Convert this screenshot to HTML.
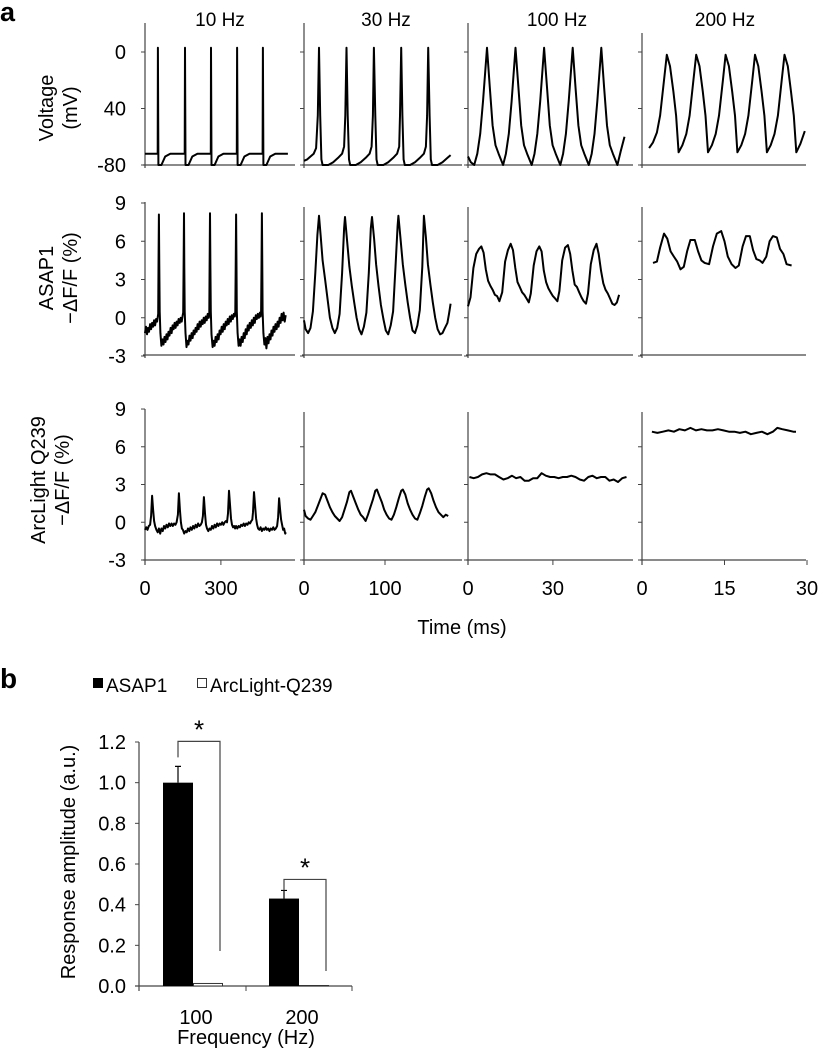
<!DOCTYPE html>
<html><head><meta charset="utf-8"><style>
html,body{margin:0;padding:0;background:#fff;}
svg{display:block;font-family:"Liberation Sans",sans-serif;}
</style></head><body>
<svg id="fig" width="823" height="1050" viewBox="0 0 823 1050">
<text x="0" y="21" font-size="27" font-weight="bold">a</text>
<text x="0" y="688" font-size="28" font-weight="bold">b</text>
<g font-size="19" text-anchor="middle">
<text x="220" y="26">10 Hz</text>
<text x="386" y="26">30 Hz</text>
<text x="557" y="26">100 Hz</text>
<text x="725" y="26">200 Hz</text>
</g>
<g font-size="20" text-anchor="middle">
<text transform="translate(53,108) rotate(-90)">Voltage</text>
<text transform="translate(77,108) rotate(-90)">(mV)</text>
<text transform="translate(53,278) rotate(-90)">ASAP1</text>
<text transform="translate(77,278) rotate(-90)">−ΔF/F (%)</text>
<text transform="translate(45,480) rotate(-90)">ArcLight Q239</text>
<text transform="translate(69,480) rotate(-90)">−ΔF/F (%)</text>
<text x="462" y="634">Time (ms)</text>
</g>
<g id="panelA"></g>
<g id="panelB"></g>
</svg>
<script>
// ---------- Panel a data ----------
const colTitles = ["10 Hz","30 Hz","100 Hz","200 Hz"];
const voltTicks = [0,-40,-80];
const voltTickLabels = ["0","40","-80"];
const dffTicks = [9,6,3,0,-3];
const dffTickLabels = ["9","6","3","0","-3"];
const timeTicks = [[0,300],[0,100],[0,30],[0,15,30]];
const timeTickLabels = [["0","300"],["0","100"],["0","30"],["0","15","30"]];

const volt10 = [[0,-72],[50,-72],[51,3],[53,-80],[65,-80],[80,-74],[100,-72],[157,-72],[158,3],[160,-80],[172,-80],[187,-74],[207,-72],[260,-72],[261,3],[263,-80],[275,-80],[290,-74],[310,-72],[363,-72],[364,3],[366,-80],[378,-80],[393,-74],[413,-72],[465,-72],[466,3],[468,-80],[480,-80],[495,-74],[515,-72],[565,-72]];
const volt30 = [[0,-77],[4,-76],[8,-74],[12,-72],[15,-68],[17,-45],[18.5,3],[20,-45],[21.5,-76],[23,-80],[30,-80],[36,-78],[42,-75],[47,-72],[49.5,-67],[51,-45],[52.5,3],[54,-45],[55.5,-76],[57,-80],[64,-80],[70,-78],[76,-75],[81,-72],[83.5,-67],[85,-45],[86.3,3],[88,-45],[89.5,-76],[91,-80],[98,-80],[104,-78],[110,-75],[115,-72],[117.5,-67],[118.5,-45],[120,3],[121.5,-45],[123,-76],[124.5,-80],[131,-80],[137,-78],[143,-75],[148,-72],[150.5,-67],[152,-45],[153.3,3],[155,-45],[156.5,-76],[158,-80],[165,-80],[171,-78],[177,-75],[181,-73]];
const volt100 = [[0,-74],[1,-78],[2.2,-80],[3.3,-72],[4.3,-58],[5.3,-35],[6.7,3],[7.7,-25],[8.7,-52],[9.7,-66],[10.8,-72],[12.4,-80],[13.4,-72],[14.4,-58],[15.4,-35],[16.8,3],[17.8,-25],[18.8,-52],[19.8,-66],[20.9,-72],[22.5,-80],[23.5,-72],[24.5,-58],[25.5,-35],[26.9,3],[27.9,-25],[28.9,-52],[29.9,-66],[31,-72],[32.6,-80],[33.6,-72],[34.6,-58],[35.6,-35],[37,3],[38,-25],[39,-52],[40,-66],[41.1,-72],[42.7,-80],[43.7,-72],[44.7,-58],[45.7,-35],[47.1,3],[48.1,-25],[49.1,-52],[50.1,-66],[51.2,-72],[52.8,-80],[54,-70],[55.3,-60]];
const volt200 = [[1.3,-68],[2,-64],[2.7,-57],[3.3,-45],[4,-20],[4.5,-2],[5.1,-10],[5.7,-28],[6.2,-45],[6.65,-71],[7.35,-66],[8.05,-58],[8.65,-45],[9.35,-20],[9.85,-2],[10.45,-10],[11.05,-28],[11.55,-45],[12,-71],[12.7,-66],[13.4,-58],[14,-45],[14.7,-20],[15.2,-2],[15.8,-10],[16.4,-28],[16.9,-45],[17.35,-71],[18.05,-66],[18.75,-58],[19.35,-45],[20.05,-20],[20.55,-2],[21.15,-10],[21.75,-28],[22.25,-45],[22.7,-71],[23.4,-66],[24.1,-58],[24.7,-45],[25.4,-20],[25.9,-2],[26.5,-10],[27.1,-28],[27.6,-45],[28.05,-71],[28.8,-65],[29.6,-56]];

const asap10 = [[0,-1.2],[4,-0.7],[8,-1.3],[12,-0.8],[16,-1.1],[20,-0.5],[24,-0.9],[28,-0.4],[32,-0.7],[36,-0.2],[40,-0.6],[44,-0.1],[48,-0.3],[52,0.3],[53.5,4],[55,8.1],[56.5,4],[58,0.5],[61,-1.2],[65,-2.2],[69,-1.7],[73,-2.1],[77,-1.5],[81,-1.9],[85,-1.3],[89,-1.7],[93,-1.1],[97,-1.4],[101,-0.8],[105,-1.2],[109,-0.6],[113,-0.9],[117,-0.4],[121,-0.8],[125,-0.3],[129,-0.6],[133,-0.1],[137,-0.4],[141,0],[145,-0.3],[149,0.2],[151,0.4],[152.5,4],[154,8.2],[155.5,4],[157,0.5],[160,-1.2],[164,-2.3],[168,-1.8],[172,-2.1],[176,-1.4],[180,-1.8],[184,-1.2],[188,-1.6],[192,-1],[196,-1.3],[200,-0.8],[204,-1.1],[208,-0.5],[212,-0.9],[216,-0.3],[220,-0.7],[224,-0.2],[228,-0.5],[232,0],[236,-0.4],[240,0.1],[244,-0.2],[248,0.3],[252,0],[254,0.4],[255.5,4],[257,8.2],[258.5,4],[260,0.5],[263,-1.3],[267,-2.3],[271,-1.8],[275,-2.2],[279,-1.5],[283,-1.9],[287,-1.3],[291,-1.7],[295,-1],[299,-1.3],[303,-0.7],[307,-1.1],[311,-0.5],[315,-0.9],[319,-0.3],[323,-0.6],[327,-0.1],[331,-0.5],[335,0.1],[339,-0.3],[343,0.2],[347,-0.1],[351,0.3],[355,0.1],[357,0.5],[358.5,4],[360,8.1],[361.5,4],[363,0.5],[366,-1.2],[370,-2.2],[374,-1.7],[378,-2.2],[382,-1.5],[386,-1.9],[390,-1.2],[394,-1.6],[398,-0.9],[402,-1.3],[406,-0.6],[410,-1],[414,-0.4],[418,-0.8],[422,-0.2],[426,-0.6],[430,0],[434,-0.4],[438,0.2],[442,-0.1],[446,0.3],[450,0],[454,0.4],[457,0.1],[459,0.5],[460.5,4],[462,8.2],[463.5,4],[465,0.5],[468,-1.2],[472,-2.1],[476,-1.6],[480,-2.4],[484,-1.5],[488,-2],[492,-1.3],[496,-1.7],[500,-1],[504,-1.4],[508,-0.7],[512,-1.1],[516,-0.5],[520,-0.9],[524,-0.3],[528,-0.7],[532,0],[536,-0.4],[540,0.3],[544,-0.2],[548,0.4],[552,-0.3],[556,0.2]];
const asap30 = [[0,-0.2],[2,-0.9],[5,-1.2],[8,-0.8],[11,0.5],[14,3.5],[16.5,6.5],[18.5,8],[20.5,6.5],[23,4.5],[26,3],[29,1.5],[32,0],[35,-0.8],[38,-1.2],[41,-0.8],[44,0.3],[47,3.5],[49.5,7],[50.6,7.9],[53,6.2],[56,4],[59,2.5],[62,1.2],[65,0],[68,-0.9],[71,-1.3],[74,-0.7],[77,0.4],[80,3.5],[82.5,7],[84,7.9],[86.5,6.2],[89,4.2],[92,2.5],[95,1],[98,-0.1],[101,-1],[104,-1.3],[107,-0.6],[110,0.5],[113,4],[115.5,7.2],[116.5,8],[119,6.3],[122,4.2],[125,2.6],[128,1.2],[131,0],[134,-1],[137,-1.2],[140,-0.6],[143,0.6],[146,4],[148,8],[150.5,6.3],[153,4.2],[156,2.6],[159,1.2],[162,0],[165,-0.9],[168,-1.3],[171,-1.2],[174,-0.8],[177,-0.4],[179,0.3],[181,1.1]];
const asap100 = [[0,0.9],[0.9,1.6],[1.9,3.9],[2.9,5.0],[3.9,5.4],[4.7,5.6],[5.5,5.1],[6.3,3.8],[7.1,2.9],[7.9,2.5],[8.7,2.2],[9.5,1.8],[10.3,1.7],[11.1,1.3],[12.1,2],[13.1,4.4],[14.1,5.3],[15.1,5.8],[15.9,5.3],[16.7,3.9],[17.5,2.8],[18.3,2.4],[19.1,2.0],[19.9,1.8],[20.7,1.5],[21.5,1.2],[22.2,1.9],[23.2,4.1],[24.2,5.2],[25.2,5.6],[26,5.2],[26.8,3.7],[27.6,2.8],[28.4,2.3],[29.2,2.0],[30,1.7],[30.8,1.5],[31.6,1.3],[32.3,2.1],[33.3,4.5],[34.3,5.5],[35.3,5.7],[36.1,5.0],[36.9,3.7],[37.7,2.6],[38.5,2.4],[39.3,2.0],[40.1,1.6],[40.9,1.3],[41.7,1.1],[42.4,1.9],[43.4,4.2],[44.4,5.3],[45.4,5.8],[46.2,5.0],[47,3.7],[47.8,2.7],[48.6,2.2],[49.4,1.9],[50.2,1.5],[51,1.1],[51.8,1.0],[52.6,1.2],[53.4,1.8]];
const asap200 = [[2,4.3],[2.7,4.4],[3.3,5.5],[4,6.6],[4.6,6.2],[5.2,5.2],[5.8,4.8],[6.4,4.4],[7,3.8],[7.6,4.0],[8.2,5.2],[8.8,6.1],[9.6,6.1],[10.2,5.2],[10.8,4.5],[11.4,4.3],[12.2,4.2],[12.9,5.6],[13.6,6.6],[14.4,6.8],[15,6.0],[15.6,4.8],[16.3,4.2],[17,3.9],[17.6,4.1],[18.3,5.6],[18.9,6.4],[19.6,6.4],[20.2,5.3],[20.8,4.6],[21.4,4.5],[21.9,4.3],[22.6,4.8],[23.2,6.0],[23.8,6.4],[24.5,6.3],[25.1,5.4],[25.7,5.0],[26.3,4.2],[27.2,4.1]];

const arc10 = [[0,-0.6],[5,-0.4],[10,-0.6],[15,-0.3],[20,-0.2],[24,0.5],[28,2.1],[32,1],[36,0.1],[40,-0.3],[45,-0.6],[50,-0.8],[55,-0.5],[60,-0.9],[65,-0.5],[70,-0.7],[75,-0.3],[80,-0.5],[85,-0.2],[90,-0.4],[95,-0.1],[100,-0.3],[105,-0.1],[110,-0.3],[115,-0.1],[120,-0.2],[125,0],[130,0.6],[134,2.3],[138,1],[142,0],[146,-0.5],[150,-0.6],[155,-0.9],[160,-0.7],[165,-0.8],[170,-0.5],[175,-0.7],[180,-0.4],[185,-0.6],[190,-0.3],[195,-0.5],[200,-0.2],[205,-0.4],[210,-0.1],[215,-0.3],[220,-0.2],[225,0],[229,0.5],[233,2.0],[237,0.7],[241,-0.2],[245,-0.5],[250,-0.7],[255,-0.5],[260,-0.6],[265,-0.3],[270,-0.5],[275,-0.2],[280,-0.4],[285,-0.1],[290,-0.3],[295,-0.1],[300,-0.2],[305,0],[310,-0.2],[315,0],[320,0.1],[324,0],[328,0.7],[332,2.5],[336,1.4],[340,0.3],[344,-0.2],[348,-0.4],[352,-0.3],[356,-0.5],[360,-0.3],[365,-0.5],[370,-0.3],[375,-0.4],[380,-0.2],[385,-0.3],[390,-0.1],[395,-0.3],[400,-0.1],[405,-0.2],[410,0],[415,-0.1],[420,0.1],[424,0.2],[427,0.8],[431,2.4],[435,1.3],[439,0.3],[443,-0.2],[447,-0.5],[452,-0.6],[457,-0.4],[462,-0.7],[467,-0.5],[472,-0.6],[477,-0.4],[482,-0.6],[487,-0.5],[492,-0.7],[497,-0.5],[502,-0.6],[507,-0.4],[512,-0.6],[517,-0.5],[522,-0.3],[526,0.4],[530,1.9],[534,1],[538,0.2],[542,-0.2],[546,-0.6],[550,-0.5],[554,-0.9],[557,-0.8]];
const arc30 = [[0,1.0],[2,0.5],[5,0.3],[8,0.2],[11,0.5],[14,0.8],[17,1.3],[20,1.8],[23,2.3],[26,2.2],[29,1.7],[32,1.2],[35,0.8],[38,0.5],[41,0.3],[44,0.1],[47,0.4],[50,1.0],[53,1.6],[56,2.4],[58,2.5],[61,2.0],[64,1.5],[67,1.0],[70,0.6],[73,0.4],[76,0.1],[79,0.6],[82,1.2],[85,1.8],[88,2.5],[90,2.6],[93,2.1],[96,1.6],[99,1.0],[102,0.6],[105,0.3],[108,0.2],[111,0.6],[114,1.2],[117,1.9],[120,2.5],[122,2.6],[125,2.2],[128,1.5],[131,1.0],[134,0.6],[137,0.3],[140,0.2],[143,0.7],[146,1.3],[149,2.0],[152,2.6],[154,2.7],[157,2.3],[160,1.7],[163,1.2],[166,0.8],[169,0.6],[172,0.4],[175,0.6],[178,0.5]];
const arc100 = [[0.5,3.6],[2,3.5],[3.5,3.6],[5,3.8],[6.5,3.9],[8,3.8],[9.5,3.8],[11,3.6],[12.5,3.4],[14,3.5],[15.5,3.7],[17,3.5],[18.5,3.6],[20,3.3],[21.5,3.3],[23,3.5],[24.5,3.5],[26,3.9],[27.5,3.7],[29,3.6],[30.5,3.6],[32,3.5],[33.5,3.6],[35,3.6],[36.5,3.7],[38,3.6],[39.5,3.4],[41,3.3],[42.5,3.6],[44,3.7],[45.5,3.5],[47,3.6],[48.5,3.6],[50,3.3],[51.5,3.4],[53,3.2],[54.5,3.5],[56,3.6]];
const arc200 = [[1.8,7.2],[2.8,7.1],[3.8,7.2],[4.8,7.3],[5.8,7.2],[6.8,7.4],[7.8,7.3],[8.8,7.5],[9.8,7.3],[10.8,7.4],[11.8,7.3],[12.8,7.3],[13.8,7.4],[14.8,7.3],[15.8,7.2],[16.8,7.2],[17.8,7.1],[18.8,7.2],[19.8,7.0],[20.8,7.1],[21.8,7.2],[22.8,7.0],[23.8,7.2],[24.6,7.5],[25.5,7.4],[26.5,7.3],[27.5,7.2],[28,7.2]];

// ---------- Panel b data ----------
const barCategories = ["100","200"];
const asapValues = [1.0, 0.43];
const asapErrors = [0.08, 0.04];
const arcValues = [0.01, 0.0];
const barTicks = [0,0.2,0.4,0.6,0.8,1.0,1.2];
const barTickLabels = ["0.0","0.2","0.4","0.6","0.8","1.0","1.2"];
</script>
<script>
const NS = "http://www.w3.org/2000/svg";
function mk(tag, attrs, parent){ const e=document.createElementNS(NS,tag); for(const k in attrs) e.setAttribute(k,attrs[k]); parent.appendChild(e); return e; }
const A = document.getElementById("panelA");
const AX = "#444";

const colX0 = [145,304,468,642];
const colX1 = [295,462,633,806];
const colPx = [0.253,0.81,2.83,5.5];
const rows = [
  {name:"voltage", top:[23,23,23,33], bottom:165, v0:0, y0:52, pxPer:113/80},
  {name:"asap", top:[202,207,207,207], bottom:355, v0:0, y0:317.75, pxPer:12.75},
  {name:"arclight", top:[409,412,412,412], bottom:560, v0:0, y0:522.25, pxPer:12.58}
];
function xs(c,t){ return colX0[c] + t*colPx[c]; }
function ys(r,v){ return rows[r].y0 - (v-rows[r].v0)*rows[r].pxPer; }
const traces = [[volt10,volt30,volt100,volt200],[asap10,asap30,asap100,asap200],[arc10,arc30,arc100,arc200]];
const rowTicks = [voltTicks, dffTicks, dffTicks];
const rowTickLabels = [voltTickLabels, dffTickLabels, dffTickLabels];

for(let r=0;r<3;r++){
  for(let c=0;c<4;c++){
    const g = mk("g",{},A);
    
    
    const yax = mk("line",{x1:colX0[c],x2:colX0[c],y1:rows[r].top[c],y2:rows[r].bottom+ (r===2?5:3),stroke:AX,"stroke-width":1.2},g);
    
    
    const xax = mk("line",{x1:colX0[c]-2,x2:colX1[c],y1:rows[r].bottom,y2:rows[r].bottom,stroke:AX,"stroke-width":1.2},g);
    
    
    rowTicks[r].forEach((v,i)=>{
      const y = ys(r,v);
      if (y < rows[r].top[c]-1) return;
      const tk = mk("line",{x1:colX0[c]-4,x2:colX0[c],y1:y,y2:y,stroke:AX,"stroke-width":1},g);
      
      
      if(c===0){
        const t = mk("text",{x:126,y:y+7,"font-size":20,"text-anchor":"end"},g);
        t.textContent = rowTickLabels[r][i];
        
        
      }
    });
    if(r===2){
      timeTicks[c].forEach((tv,i)=>{
        const x = xs(c,tv);
        const tk = mk("line",{x1:x,x2:x,y1:rows[r].bottom,y2:rows[r].bottom+5,stroke:AX,"stroke-width":1},g);
        
        
        const t = mk("text",{x:x,y:595,"font-size":20,"text-anchor":"middle"},g);
        t.textContent = timeTickLabels[c][i];
        
        
      });
    }
    const pts = traces[r][c].map(p=>xs(c,p[0]).toFixed(1)+","+ys(r,p[1]).toFixed(1)).join(" ");
    const pl = mk("polyline",{points:pts,fill:"none",stroke:"#000","stroke-width":2,"stroke-linejoin":"round"},g);
    
    
  }
}

// ---------- Panel b ----------
const B = document.getElementById("panelB");
const bx0 = 139, bx1 = 352, by0 = 986, byPer = (986-742)/1.2;
const groupCenter = [193, 299];
const barW = 30;
function by(v){ return by0 - v*byPer; }
let e;
e = mk("rect",{x:93,y:678,width:10,height:10,fill:"#000"},B);


e = mk("text",{x:106,y:692,"font-size":19},B); e.textContent="ASAP1";


e = mk("rect",{x:197.5,y:678.5,width:9,height:9,fill:"#fff",stroke:"#333","stroke-width":1},B);


e = mk("text",{x:210,y:692,"font-size":19},B); e.textContent="ArcLight-Q239";


e = mk("line",{x1:bx0,x2:bx0,y1:by(1.2),y2:by0+5,stroke:AX,"stroke-width":1.2},B);


e = mk("line",{x1:bx0-4,x2:bx1,y1:by0,y2:by0,stroke:AX,"stroke-width":1.2},B);


[246,352].forEach(x=>{
  e = mk("line",{x1:x,x2:x,y1:by0,y2:by0+5,stroke:AX,"stroke-width":1},B);
  
  
});
barTicks.forEach((v,i)=>{
  e = mk("line",{x1:bx0-4,x2:bx0,y1:by(v),y2:by(v),stroke:AX,"stroke-width":1},B);
  
  
  e = mk("text",{x:126,y:by(v)+7,"font-size":20,"text-anchor":"end"},B);
  e.textContent = barTickLabels[i];
  
  
});
e = mk("text",{transform:"translate(75,862) rotate(-90)","font-size":20,"text-anchor":"middle"},B);
e.textContent = "Response amplitude (a.u.)";


e = mk("text",{x:246,y:1044,"font-size":20,"text-anchor":"middle"},B);
e.textContent = "Frequency (Hz)";


barCategories.forEach((cat,i)=>{
  const cx = groupCenter[i];
  e = mk("text",{x:cx+3,y:1024,"font-size":20,"text-anchor":"middle"},B);
  e.textContent = cat;
  
  
  e = mk("rect",{x:cx-barW,y:by(asapValues[i]),width:barW,height:by0-by(asapValues[i]),fill:"#000"},B);
  
  
  const ex = cx-barW/2, eTop = by(asapValues[i]+asapErrors[i]);
  e = mk("path",{d:`M${ex},${by(asapValues[i])} V${eTop} M${ex-3},${eTop} H${ex+3}`,stroke:"#000","stroke-width":1.2,fill:"none"},B);
  
  
  const ah = Math.max(by0-by(arcValues[i]),0);
  e = mk("rect",{x:cx+0.5,y:by(arcValues[i])-0.5,width:barW-1,height:ah+0.5,fill:"#fff",stroke:"#333","stroke-width":1},B);
  
  
  const bTop = by(asapValues[i]+asapErrors[i]) - (i===0?25:11);
  const lStart = by(asapValues[i]+asapErrors[i]) - (i===0?9:0);
  const rx = cx+barW-3;
  const rEnd = by(arcValues[i]) - (i===0?33:15);
  e = mk("path",{d:`M${ex},${lStart} V${bTop} H${rx} V${rEnd}`,stroke:"#444","stroke-width":1.2,fill:"none"},B);
  
  
  e = mk("text",{x:(ex+rx)/2,y:bTop-3,"font-size":26,"text-anchor":"middle"},B);
  e.textContent = "*";
  
  
});
</script>
</body></html>
